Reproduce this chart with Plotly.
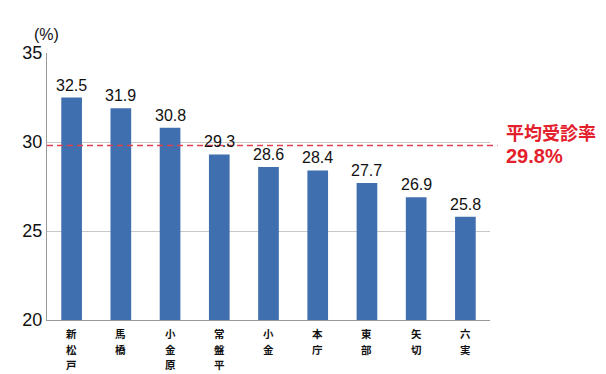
import plotly.graph_objects as go

# Districts and their screening rates (%)
districts = ["新松戸", "馬橋", "小金原", "常盤平", "小金", "本庁", "東部", "矢切", "六実"]
rates = [32.5, 31.9, 30.8, 29.3, 28.6, 28.4, 27.7, 26.9, 25.8]
average_rate = 29.8
y_ticks = [20, 25, 30, 35]

FONT = "Liberation Sans, Arial, Noto Sans CJK JP, sans-serif"
CJK = "Noto Sans CJK JP, sans-serif"
BAR_COLOR = "#3f6fae"
RED = "#e3202c"

fig = go.Figure()
fig.add_trace(go.Bar(
    x=districts, y=rates, marker_color=BAR_COLOR, width=0.42,
    marker_line_width=0, hoverinfo="skip",
))

# Value labels above each bar
for cat, v in zip(districts, rates):
    fig.add_annotation(
        x=cat, y=v, text=f"{v:.1f}", showarrow=False, yanchor="bottom", yshift=2,
        font=dict(family=FONT, size=16, color="#111"),
    )

# Vertical category labels, one character per row
for cat in districts:
    for k, ch in enumerate(cat):
        fig.add_annotation(
            x=cat, y=20, text=f"<b>{ch}</b>", showarrow=False, yanchor="top",
            yshift=-5 - 15.5 * k, borderpad=0,
            font=dict(family=CJK, size=10.5, color="#111"),
        )

# Average line
fig.add_shape(
    type="line", xref="paper", yref="y", x0=0, x1=1.017, y0=average_rate, y1=average_rate,
    line=dict(color="#e0404e", width=1.5, dash="6px,4px"),
)
fig.add_annotation(
    xref="paper", yref="y", x=1.034, y=average_rate, xanchor="left", yanchor="middle",
    yshift=3, align="left", showarrow=False, borderpad=0,
    text=(f"<b>平均受診率</b><br>"
          f"<span style='font-family:Liberation Sans, Arial;font-size:20px'><b>{average_rate:.1f}%</b></span>"),
    font=dict(family=CJK, size=18, color=RED),
)

# Unit label
fig.add_annotation(
    xref="paper", yref="paper", x=-0.034, y=1.03, xanchor="left", yanchor="bottom",
    text="(%)", showarrow=False, font=dict(family=FONT, size=16, color="#111"),
)

fig.update_layout(
    width=606, height=374,
    margin=dict(l=47, r=116, t=53, b=54),
    paper_bgcolor="white", plot_bgcolor="white",
    showlegend=False,
    xaxis=dict(
        showline=True, linecolor="#999", linewidth=1,
        ticks="", showticklabels=False, showgrid=False, automargin=False,
    ),
    yaxis=dict(
        range=[20, 35], tickvals=y_ticks, ticktext=[str(t) for t in y_ticks],
        showline=True, linecolor="#999", linewidth=1,
        showgrid=True, gridcolor="#c8c8c8", gridwidth=1,
        ticks="", tickfont=dict(family=FONT, size=18, color="#111"),
        zeroline=False, automargin=False,
    ),
)

fig.write_html("out.html")
